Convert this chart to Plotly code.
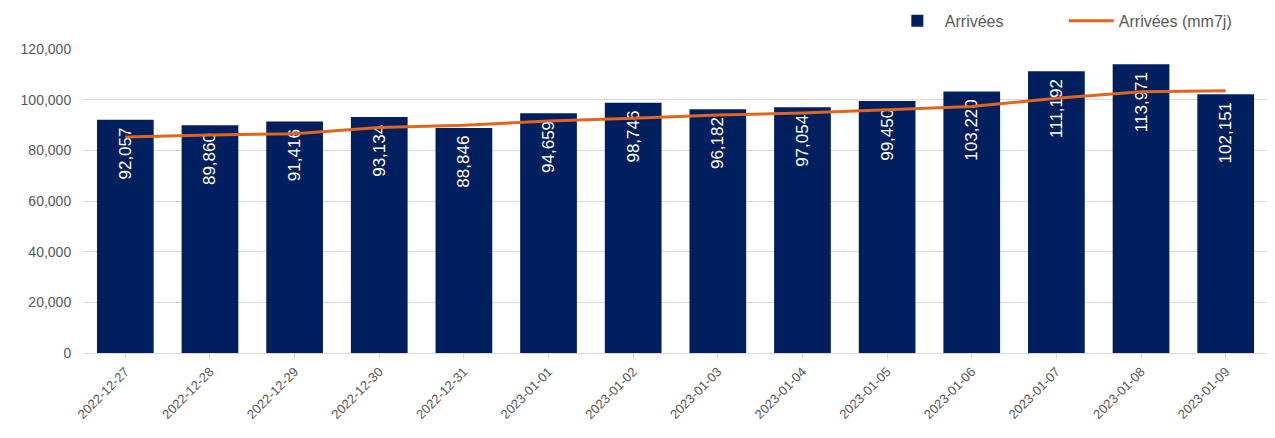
import plotly.graph_objects as go

dates = [
    "2022-12-27", "2022-12-28", "2022-12-29", "2022-12-30", "2022-12-31",
    "2023-01-01", "2023-01-02", "2023-01-03", "2023-01-04", "2023-01-05",
    "2023-01-06", "2023-01-07", "2023-01-08", "2023-01-09",
]
arrivees = [
    92057, 89860, 91416, 93134, 88846, 94659, 98746,
    96182, 97054, 99450, 103220, 111192, 113971, 102151,
]
# 7-day moving average
arrivees_mm7j = [
    85300, 86100, 86500, 89000, 89900, 91600, 92700,
    93900, 94700, 95900, 97300, 100600, 103100, 103500,
]

BAR_COLOR = "#001F5F"
LINE_COLOR = "#E2651F"
TEXT_GREY = "#595959"

fig = go.Figure()
fig.add_trace(go.Bar(
    x=dates,
    y=arrivees,
    name="Arrivées",
    marker=dict(color=BAR_COLOR, line=dict(width=0)),
    text=[f"{v:,}\u00a0" for v in arrivees],
    textposition="inside",
    insidetextanchor="end",
    textangle=-90,
    textfont=dict(color="white", size=17, family="Arial"),
))
fig.add_trace(go.Scatter(
    x=dates,
    y=arrivees_mm7j,
    name="Arrivées (mm7j)",
    mode="lines",
    line=dict(color=LINE_COLOR, width=3),
))

# the page body adds an 8px offset, so the figure is 8px smaller
fig.update_layout(
    width=1267,
    height=430,
    margin=dict(l=75, r=7, t=41, b=85, autoexpand=False),
    paper_bgcolor="white",
    plot_bgcolor="white",
    bargap=0.33,
    font=dict(family="Arial", color=TEXT_GREY, size=13),
    showlegend=True,
    legend=dict(
        orientation="h",
        xref="container", yref="container",
        x=0.696, xanchor="left",
        y=0.97, yanchor="middle",
        font=dict(size=16, color=TEXT_GREY),
        itemwidth=45,
        entrywidth=114,
        traceorder="normal",
    ),
    xaxis=dict(
        type="category",
        tickangle=-45,
        tickfont=dict(size=13, color=TEXT_GREY),
        showline=True,
        linecolor="#D9D9D9",
        ticks="outside",
        ticklen=5,
        tickcolor="#D9D9D9",
        showgrid=False,
        automargin=False,
    ),
    yaxis=dict(
        range=[0, 120000],
        dtick=20000,
        tickformat=",",
        tickfont=dict(size=14, color=TEXT_GREY),
        gridcolor="#D9D9D9",
        gridwidth=1,
        zeroline=False,
        ticks="outside",
        ticklen=8,
        tickcolor="white",
        automargin=False,
    ),
)

fig.write_html("out.html")
